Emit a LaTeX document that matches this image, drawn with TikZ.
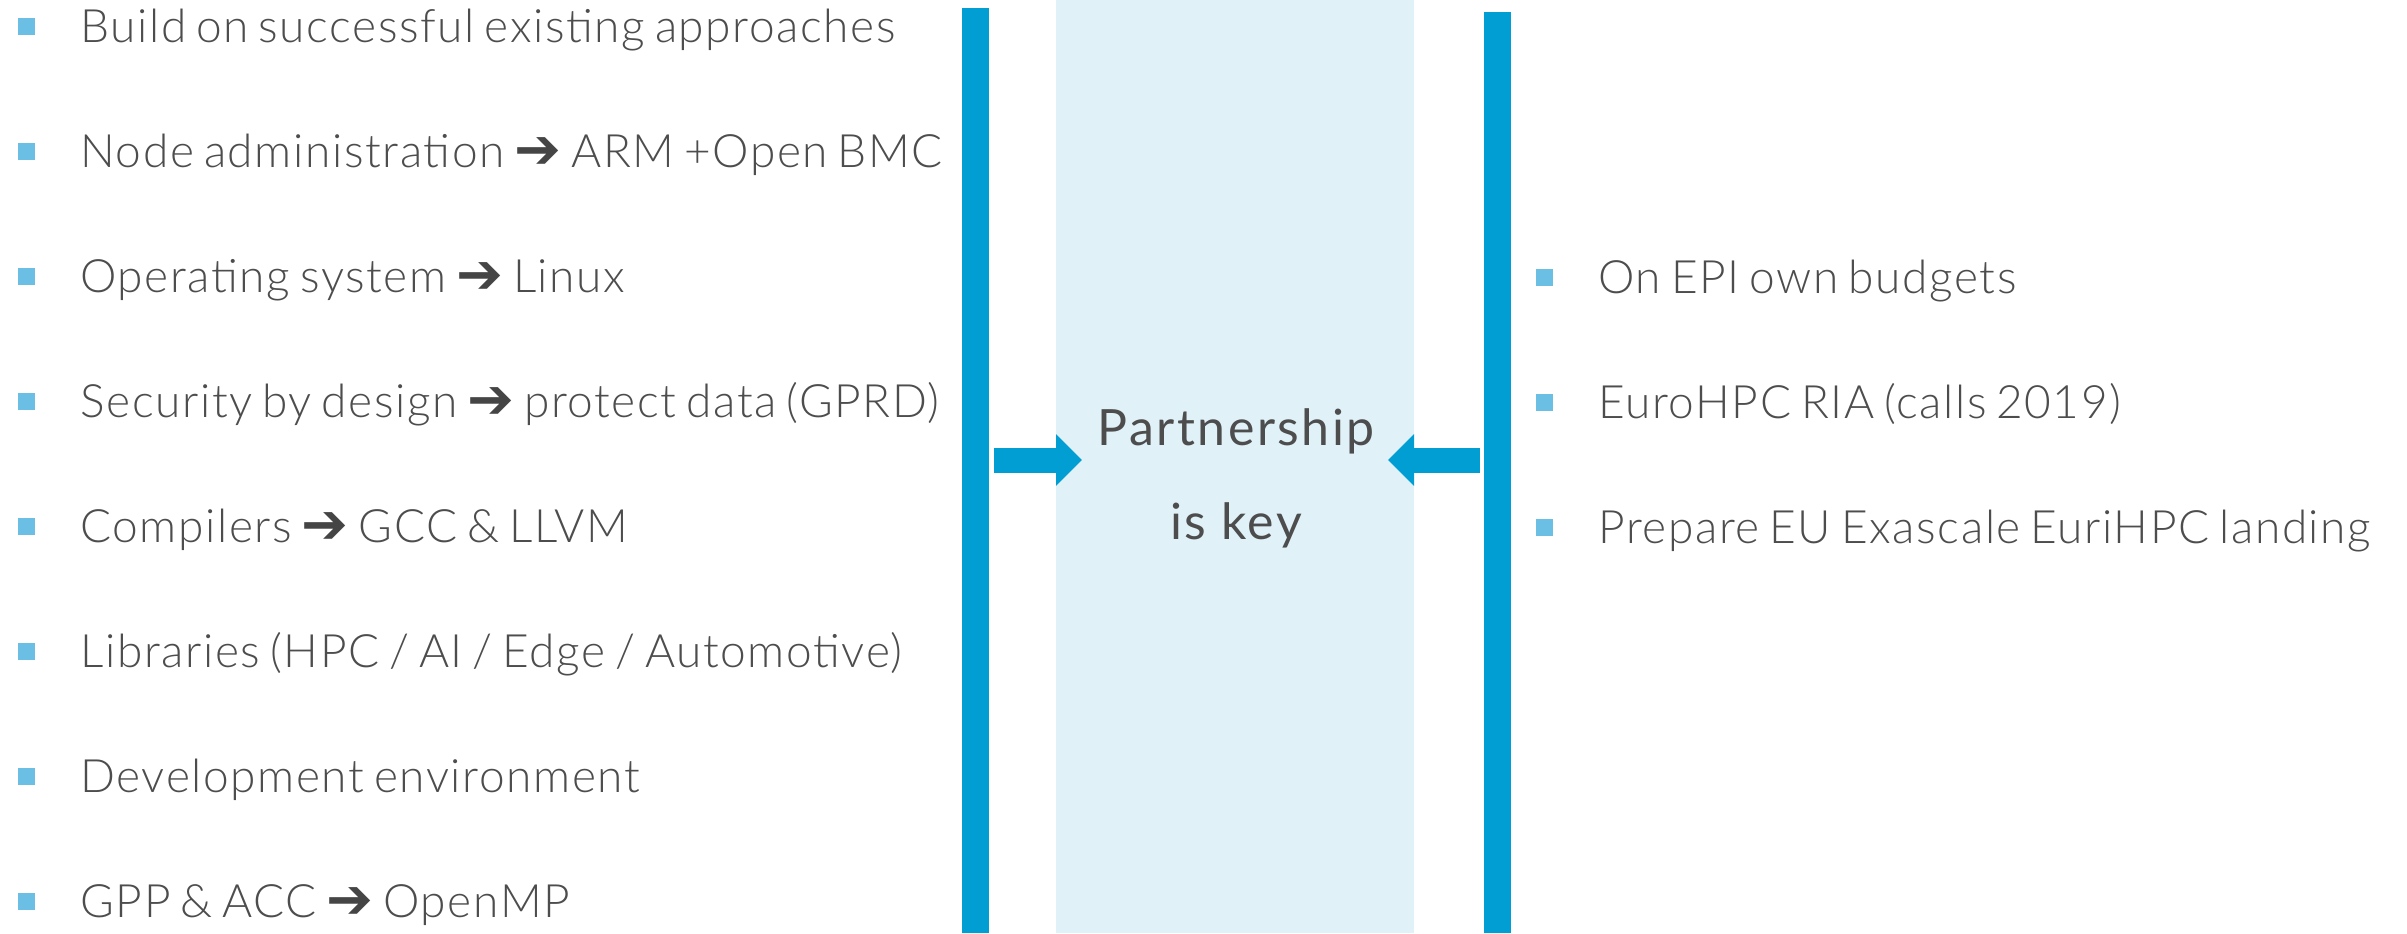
\documentclass[tikz,border=0pt]{standalone}
\usepackage{fontspec}
\setmainfont{Lato}[UprightFont={* Light}, LetterSpace=3.5, WordSpace=0.7]
\newfontfamily\regfont{Lato}[LetterSpace=5]
\newfontfamily\symfont{DejaVu Sans}
\usetikzlibrary{arrows.meta}
\definecolor{barblue}{HTML}{009ED3}
\definecolor{panelblue}{HTML}{E0F1F8}
\definecolor{bulletblue}{HTML}{6BBFE5}
\definecolor{txtgray}{HTML}{4D4D4D}
\definecolor{arrgray}{HTML}{454545}
\tikzset{
  bar/.style={fill=barblue, inner sep=0pt, minimum width=13.5pt, anchor=north west},
  bul/.style={fill=bulletblue, inner sep=0pt, minimum size=8.5pt},
  item/.style={anchor=base west, inner sep=0pt, text=txtgray, font=\fontsize{23}{27}\selectfont},
  blk/.style={draw=barblue, line width=12.5pt, -{Triangle[length=13pt,width=25pt]}},
  key/.style={align=center, inner sep=0pt, text=txtgray, font=\regfont\fontsize{25}{47}\selectfont}
}
\newcommand{\ra}{\raisebox{-0.5pt}{\symfont\bfseries\fontsize{28}{28}\selectfont\color{arrgray}\char"2794}}
\begin{document}
\begin{tikzpicture}[x=0.5pt,y=-0.5pt]
\useasboundingbox (0,0) rectangle (2407,933);
\node[fill=panelblue, inner sep=0pt, minimum width=179pt, minimum height=466.5pt, anchor=north west] (panel) at (1056,0) {};
\node[bar, minimum height=462.5pt] (lbar) at (962,8) {};
\node[bar, minimum height=460.5pt] (rbar) at (1484,12) {};
\node[key, anchor=base] (kt) at (1236,445) {Partnership};
\node[key, anchor=base] (kb) at (1236,539) {is key};
\coordinate (ltip) at (1082,460);
\coordinate (rtip) at (1388,460);
\draw[blk] (lbar.east |- ltip) ++(4,0) -- (ltip);
\draw[blk] (rbar.west |- rtip) ++(-4,0) -- (rtip);
% left list
\foreach \y/\t [count=\i] in {
  42/{Build on successful existing approaches},
  167/{Node administration \ra{} ARM +Open BMC},
  292/{Operating system \ra{} Linux},
  417/{Security by design \ra{} protect data (GPRD)},
  542/{Compilers \ra{} GCC \& LLVM},
  667/{Libraries (HPC / AI / Edge / Automotive)},
  792/{Development environment},
  917/{GPP \& ACC \ra{} OpenMP}} {
  \node[bul] (lb\i) at (26.5,\y-16) {};
  \node[item] (lt\i) at (80,\y) {\t};
}
% right list
\foreach \y/\t [count=\i] in {
  293/{On EPI own budgets},
  418/{EuroHPC RIA (calls 2019)},
  543/{Prepare EU Exascale EuriHPC landing}} {
  \node[bul] (rb\i) at (1544.5,\y-16) {};
  \node[item] (rt\i) at (1598,\y) {\t};
}
\end{tikzpicture}
\end{document}
